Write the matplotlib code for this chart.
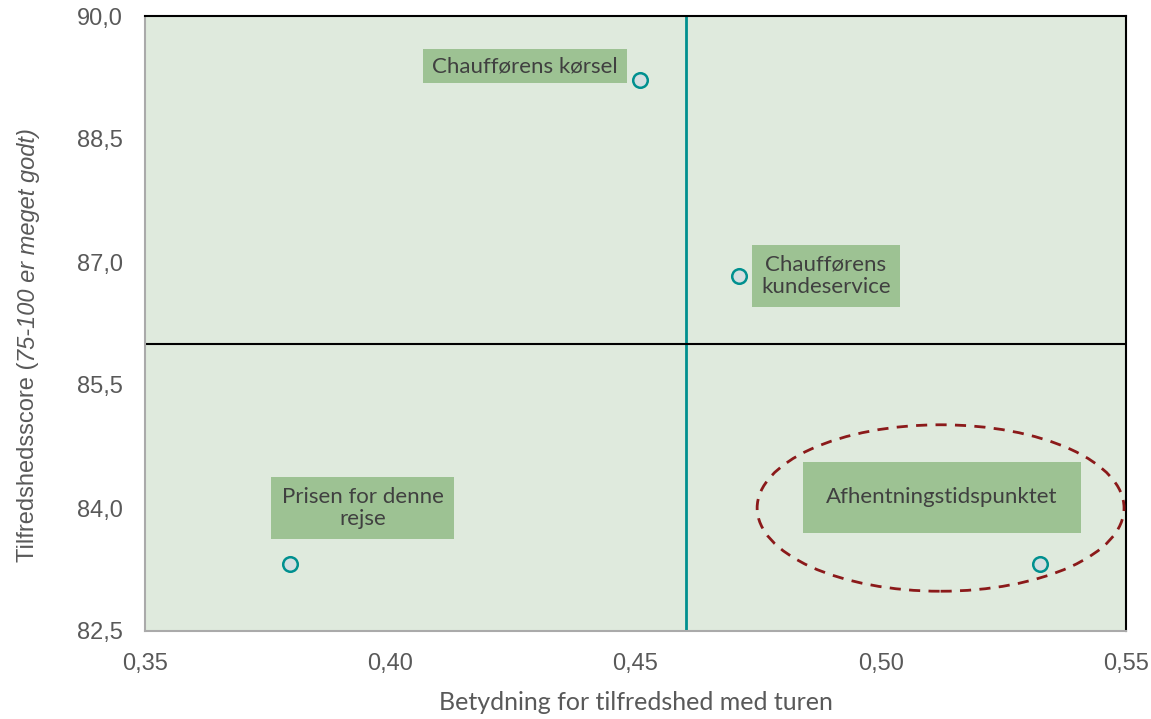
import matplotlib.pyplot as plt
from matplotlib.patches import Ellipse, Rectangle

plt.rcParams['font.family'] = ['Liberation Sans', 'DejaVu Sans']

# Driver analysis data
labels = ['Chaufførens kørsel', 'Chaufførens\nkundeservice', 'Prisen for denne\nrejse', 'Afhentningstidspunktet']
importance = [0.451, 0.471, 0.3795, 0.5325]
score = [89.22, 86.83, 83.32, 83.32]
# label boxes: centre and size in data units
label_x = [0.4275, 0.4888, 0.3944, 0.5125]
label_y = [89.39, 86.83, 84.0, 84.13]
box_w = [0.0416, 0.0302, 0.0373, 0.0565]
box_h = [0.415, 0.756, 0.756, 0.866]

mean_importance = 0.4603
mean_score = 86.0

xticks = [0.35, 0.40, 0.45, 0.50, 0.55]
yticks = [82.5, 84.0, 85.5, 87.0, 88.5, 90.0]

bg = '#dfeadd'
box = '#9dc293'
teal = '#00908f'
txt = '#404040'
grey = '#595959'
label_font = ['Lato', 'DejaVu Sans']

fig = plt.figure(figsize=(11.51, 7.19), dpi=100)
ax = fig.add_axes([145 / 1151, 1 - 631 / 719, 981 / 1151, 615 / 719])
ax.set_facecolor(bg)
ax.set_xlim(0.35, 0.55)
ax.set_ylim(82.5, 90.0)

ax.axvline(mean_importance, color=teal, lw=2, zorder=2)
ax.axhline(mean_score, color='black', lw=1.5, zorder=2)

ax.scatter(importance, score, s=110, facecolor='#d5dfe0', edgecolor=teal, linewidth=1.8, zorder=4)

for lab, lx, ly, w, h in zip(labels, label_x, label_y, box_w, box_h):
    ax.add_patch(Rectangle((lx - w / 2, ly - h / 2), w, h, fc=box, ec='none', zorder=3))
    ax.text(lx, ly, lab, ha='center', va='center', fontsize=16, color=txt,
            family=label_font, linespacing=1.15, zorder=3)

ax.add_patch(Ellipse((0.5122, 84.0), 0.0748, 2.03, fill=False, ec='#8b1a1a',
                     lw=2, ls=(0, (4, 3)), zorder=3))

ax.set_xticks(xticks)
ax.set_xticklabels([f'{v:.2f}'.replace('.', ',') for v in xticks])
ax.set_yticks(yticks)
ax.set_yticklabels([f'{v:.1f}'.replace('.', ',') for v in yticks])
ax.tick_params(length=0, labelsize=17, labelcolor=grey)
ax.tick_params(axis='y', pad=16)
ax.tick_params(axis='x', pad=16)

for s in ['left', 'bottom']:
    ax.spines[s].set_color('#aaaaaa')
    ax.spines[s].set_linewidth(1.5)
for s in ['top', 'right']:
    ax.spines[s].set_color('black')
    ax.spines[s].set_linewidth(1.5)

# x label
fig.text((145 + 981 / 2) / 1151, 1 - 703 / 719, 'Betydning for tilfredshed med turen',
         ha='center', va='center', fontsize=18, color=grey, family=label_font)

# y label: plain part followed by italic part
yl1 = fig.text(28 / 1151, 0, 'Tilfredshedsscore (', rotation=90, ha='center', va='bottom',
               fontsize=17, color=grey)
yl2 = fig.text(28 / 1151, 0, '75-100 er meget godt)', rotation=90, ha='center', va='bottom',
               fontsize=17, color=grey, style='italic')
fig.canvas.draw()
r = fig.canvas.get_renderer()
h1 = yl1.get_window_extent(r).height
h2 = yl2.get_window_extent(r).height
H = fig.bbox.height
start = (H - 345) - (h1 + h2) / 2
yl1.set_y(start / H)
yl2.set_y((start + h1) / H)

fig.savefig('out.png', dpi=100)
